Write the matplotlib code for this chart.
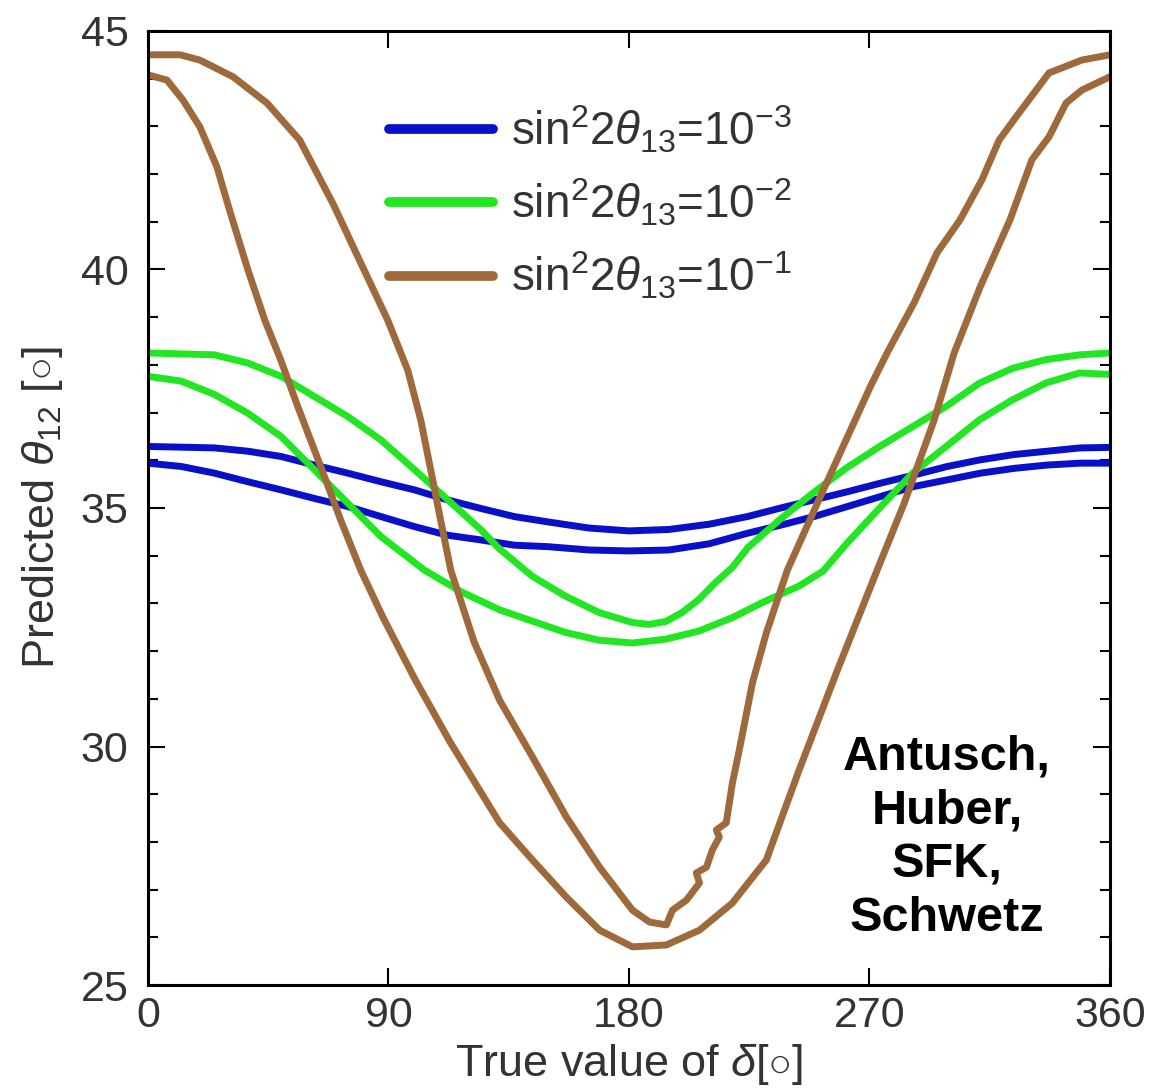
import matplotlib
matplotlib.use("Agg")
import matplotlib.pyplot as plt
from matplotlib.ticker import MultipleLocator

plt.rcParams['font.family'] = ['Liberation Sans', 'DejaVu Sans']
plt.rcParams['mathtext.fontset'] = 'custom'
plt.rcParams['mathtext.rm'] = 'Liberation Sans'
plt.rcParams['mathtext.it'] = 'Liberation Sans:italic'
plt.rcParams['mathtext.bf'] = 'Liberation Sans:bold'

# ---------------- data ----------------
blue_hi_x = [0, 24.9, 37.4, 49.8, 62.3, 74.8, 87.2, 99.7, 112.1, 124.6, 137.1, 149.5, 165, 180, 195, 210,
             224.3, 236.8, 249.2, 261.7, 274.1, 286.6, 299.1, 311.5, 324, 336.4, 348.9, 360]
blue_hi_y = [36.29, 36.26, 36.19, 36.08, 35.90, 35.73, 35.55, 35.38, 35.17, 34.99, 34.82, 34.71, 34.58, 34.52,
             34.55, 34.66, 34.82, 35.0, 35.17, 35.34, 35.52, 35.69, 35.87, 36.01, 36.12, 36.19, 36.26, 36.27]

blue_lo_x = [0, 12.5, 24.9, 37.4, 49.8, 62.3, 74.8, 87.2, 99.7, 112.1, 124.6, 137.1, 149.5, 165, 180, 195, 210,
             224.3, 236.8, 249.2, 261.7, 274.1, 286.6, 299.1, 311.5, 324, 336.4, 348.9, 360]
blue_lo_y = [35.94, 35.87, 35.73, 35.55, 35.38, 35.20, 35.03, 34.82, 34.61, 34.43, 34.33, 34.22, 34.19, 34.12,
             34.10, 34.12, 34.25, 34.47, 34.64, 34.82, 35.03, 35.24, 35.45, 35.59, 35.73, 35.83, 35.90, 35.94, 35.94]

green_hi_x = [0, 24.9, 37.3, 49.8, 62.2, 74.7, 87.1, 99.6, 112, 124.5, 131.4, 143.8, 156.3, 168.8, 181.2, 187.5,
              193.7, 199.9, 206.1, 212.4, 218.6, 224.5, 236.5, 249, 261.4, 273.8, 286.3, 298.7, 311.2, 323.6,
              336, 348.5, 360]
green_hi_y = [38.25, 38.21, 38.04, 37.76, 37.34, 36.92, 36.43, 35.81, 35.18, 34.55, 34.15, 33.57, 33.15, 32.81,
              32.60, 32.56, 32.62, 32.81, 33.08, 33.44, 33.75, 34.17, 34.76, 35.32, 35.84, 36.29, 36.71, 37.13,
              37.62, 37.93, 38.11, 38.21, 38.25]

green_lo_x = [0, 12.4, 24.9, 37.3, 49.8, 62.3, 74.8, 87.2, 103.4, 117, 131.4, 143.8, 156.3, 168.8, 181.2, 193.7,
              206.1, 218.6, 231.1, 243.5, 252.7, 261.4, 273.8, 286.3, 298.7, 311.2, 323.6, 336, 348.5, 360]
green_lo_y = [37.76, 37.66, 37.38, 36.99, 36.50, 35.80, 35.10, 34.40, 33.70, 33.25, 32.87, 32.63, 32.39, 32.23,
              32.17, 32.25, 32.42, 32.70, 33.05, 33.36, 33.68, 34.25, 35.00, 35.74, 36.29, 36.85, 37.27, 37.62,
              37.83, 37.80]

brown_hi_x = [0, 12, 19.4, 31.8, 44.5, 56.8, 69.5, 79.6, 89.7, 97.2, 102.1, 105.8, 109.5, 113.3, 122, 131.6,
              143.9, 156.6, 169, 181.3, 187.7, 194, 196.3, 201.5, 206.4, 205.2, 209, 211.2, 213.8, 212.7, 216.4,
              218.7, 221.3, 226.2, 231.4, 239.3, 250.5, 259, 270.3, 276.6, 286.7, 295.3, 303.9, 312.1, 318.5,
              324.9, 337.2, 349.5, 360]
brown_hi_y = [44.50, 44.50, 44.39, 44.04, 43.49, 42.71, 41.35, 40.14, 38.94, 37.89, 36.84, 35.80, 34.75, 33.70,
              32.20, 30.97, 29.78, 28.52, 27.47, 26.57, 26.32, 26.26, 26.57, 26.78, 27.14, 27.35, 27.47, 27.83,
              28.10, 28.25, 28.40, 29.23, 29.93, 31.33, 32.38, 33.70, 35.10, 36.15, 37.54, 38.25, 39.30, 40.35,
              41.04, 41.88, 42.71, 43.20, 44.12, 44.39, 44.50]

brown_lo_x = [0, 7.1, 13.1, 19.4, 25.8, 30.7, 37.4, 43.7, 49.7, 56.1, 64.7, 72.1, 79.6, 88, 100, 113, 131.6,
              143.9, 156.6, 169, 181.3, 194, 206.4, 218.7, 231.4, 243.7, 258, 272.9, 283, 294.2, 301.7, 311.4,
              322.6, 330.8, 337.2, 343.6, 349.5, 360]
brown_lo_y = [44.08, 43.97, 43.55, 42.99, 42.15, 41.21, 39.99, 38.94, 38.10, 37.12, 35.86, 34.75, 33.70, 32.70,
              31.40, 30.10, 28.40, 27.62, 26.84, 26.15, 25.80, 25.84, 26.15, 26.72, 27.62, 29.51, 31.60, 33.70,
              35.10, 36.84, 38.25, 39.63, 41.04, 42.30, 42.78, 43.49, 43.76, 44.04]

legend_labels = [r"sin$^2$2$\theta_{13}$=10$^{-3}$",
                 r"sin$^2$2$\theta_{13}$=10$^{-2}$",
                 r"sin$^2$2$\theta_{13}$=10$^{-1}$"]
x_ticks = [0, 90, 180, 270, 360]
y_ticks = [25, 30, 35, 40, 45]
authors = "Antusch,\nHuber,\nSFK,\nSchwetz"

c_blue = "#0a0fc8"
c_green = "#22e622"
c_brown = "#9e6a3c"
c_text = "#333333"

# ---------------- figure ----------------
fig = plt.figure(figsize=(11.49, 10.90), dpi=100)
ax = fig.add_axes([0.1288, 0.0963, 0.8372, 0.8753])

lw = 5.0
lb, = ax.plot(blue_hi_x, blue_hi_y, color=c_blue, lw=lw)
ax.plot(blue_lo_x, blue_lo_y, color=c_blue, lw=lw)
lg, = ax.plot(green_hi_x, green_hi_y, color=c_green, lw=lw)
ax.plot(green_lo_x, green_lo_y, color=c_green, lw=lw)
lr, = ax.plot(brown_hi_x, brown_hi_y, color=c_brown, lw=lw)
ax.plot(brown_lo_x, brown_lo_y, color=c_brown, lw=lw)

ax.set_xlim(0, 360)
ax.set_ylim(25, 45)
ax.set_xticks(x_ticks)
ax.set_yticks(y_ticks)
ax.yaxis.set_minor_locator(MultipleLocator(1))
ax.tick_params(which='both', direction='in', top=True, right=True, labelsize=31,
               labelcolor=c_text, width=1.5)
ax.tick_params(axis='x', pad=8)
ax.tick_params(axis='y', pad=14)
ax.tick_params(which='major', length=12)
ax.tick_params(which='minor', length=7)
for s in ax.spines.values():
    s.set_linewidth(2.2)

ax.set_xlabel(r"True value of $\delta$[$\circ$]", fontsize=32.5, color=c_text, labelpad=4)
ax.set_ylabel(r"Predicted $\theta_{12}$ [$\circ$]", fontsize=32.5, color=c_text, labelpad=11)

leg = ax.legend([lb, lg, lr], legend_labels, loc='upper left', bbox_to_anchor=(0.232, 0.943),
                fontsize=33, frameon=False, handlelength=2.25, handletextpad=0.4,
                labelspacing=0.48, borderaxespad=0)
for h in leg.get_lines():
    h.set_linewidth(7)
    h.set_solid_capstyle('round')
for t in leg.get_texts():
    t.set_color(c_text)

ax.text(0.8305, 0.154, authors, transform=ax.transAxes, ha='center', va='center',
        fontsize=35, fontweight='bold', linespacing=1.25, color='black')

fig.savefig("out.png", dpi=100)
